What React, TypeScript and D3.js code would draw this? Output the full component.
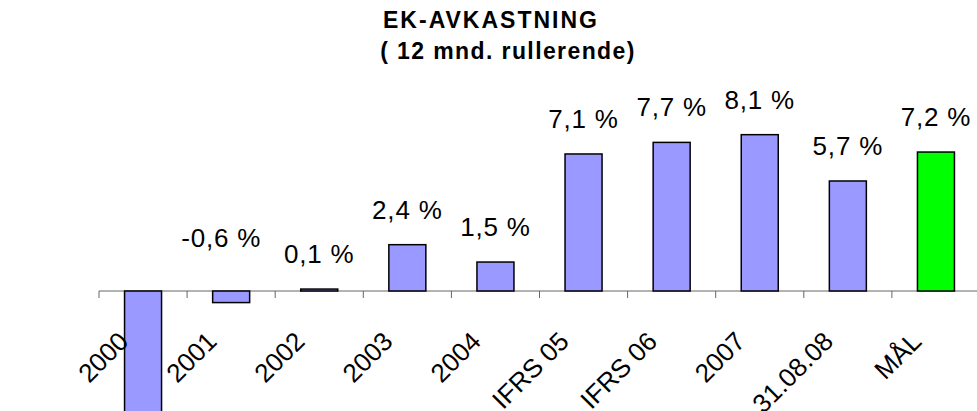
import React from 'react';
import * as d3 from 'd3';

// chart data
const categories = ['2000', '2001', '2002', '2003', '2004', 'IFRS 05', 'IFRS 06', '2007', '31.08.08', 'MÅL'];
const values = [-7.3, -0.6, 0.1, 2.4, 1.5, 7.1, 7.7, 8.1, 5.7, 7.2];
const valueLabels = ['', '-0,6 %', '0,1 %', '2,4 %', '1,5 %', '7,1 %', '7,7 %', '8,1 %', '5,7 %', '7,2 %'];
const titleLines = ['EK-AVKASTNING', '( 12 mnd. rullerende)'];

const width = 977;
const height = 411;
const margin = { left: 99, right: -3 };

export default function App() {
    // band layout: tick marks between categories, narrow bars in the middle
    const x = d3.scaleBand<string>()
        .domain(categories)
        .range([margin.left, width - margin.right])
        .paddingInner(0.58)
        .paddingOuter(0.29);

    // zero line sits at y = 291, about 19.3 px per percent
    const y = d3.scaleLinear()
        .domain([-8, 10])
        .range([445.4, 98]);

    const step = x.step();
    const bw = x.bandwidth();
    const y0 = y(0);
    const ticks = d3.range(categories.length + 1).map(i => margin.left + i * step);

    const font = 'Liberation Sans, Arial, sans-serif';

    return (
        <svg width={width} height={height} style={{ position: 'absolute', left: 0, top: 0 }}
             fontFamily={font}>
            <rect width={width} height={height} fill="#fff" />

            {/* title */}
            <text x={491} y={28} textAnchor="middle" fontWeight="bold" fontSize={23} letterSpacing={2}>
                {titleLines[0]}
            </text>
            <text x={508} y={59} textAnchor="middle" fontWeight="bold" fontSize={23} letterSpacing={1.4}>
                {titleLines[1]}
            </text>

            {/* category axis */}
            <line x1={margin.left} x2={width} y1={y0} y2={y0} stroke="#666" strokeWidth={1} />
            {ticks.map((t, i) => (
                <line key={i} x1={t} x2={t} y1={y0} y2={y0 + 7} stroke="#666" strokeWidth={1} />
            ))}

            {/* bars */}
            {categories.map((c, i) => {
                const v = values[i];
                return (
                    <rect key={c}
                          x={x(c)}
                          y={y(Math.max(v, 0))}
                          width={bw}
                          height={Math.abs(y(v) - y0)}
                          fill={c === 'MÅL' ? '#00ff00' : '#9999ff'}
                          stroke="#000"
                          strokeWidth={1.5} />
                );
            })}

            {/* value labels */}
            {categories.map((c, i) => {
                const v = values[i];
                const cx = (x(c) as number) + bw / 2;
                // big negatives get their label under the bar, small ones stay above the axis
                const ly = v < -1 ? y(v) + 30 : y(Math.max(v, 0)) - 26 - (v < 0 ? 18 : 0);
                return (
                    <text key={c} x={cx - (v < 0 ? 10 : 0)} y={ly} textAnchor="middle"
                          fontSize={26} letterSpacing={0.8}>
                        {valueLabels[i]}
                    </text>
                );
            })}

            {/* rotated category labels */}
            {categories.map(c => {
                const cx = (x(c) as number) + bw / 2;
                return (
                    <text key={c} transform={`translate(${cx - 13},${y0 + 52}) rotate(-45)`}
                          textAnchor="end" fontSize={26}>
                        {c}
                    </text>
                );
            })}
        </svg>
    );
}
